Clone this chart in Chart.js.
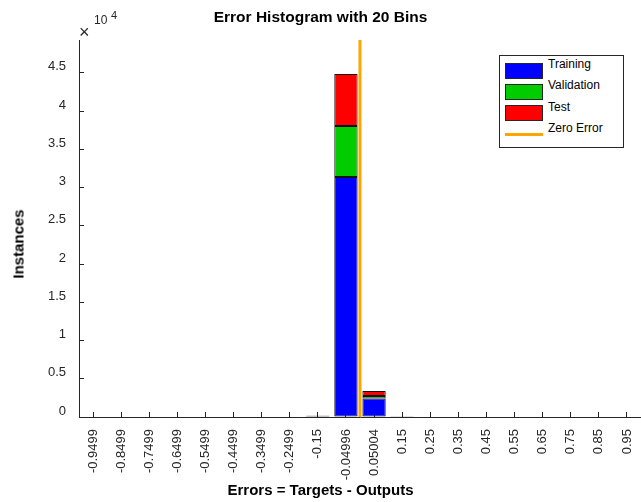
<!DOCTYPE html>
<html lang="en">
<head>
  <meta charset="UTF-8"/>
  <title>Error Histogram with 20 Bins</title>
  <script src="https://cdn.jsdelivr.net/npm/chart.js"></script>
  <style>
    body { margin: 0; background: #fff; font-family: "Liberation Sans", Arial, sans-serif; }
    .wrap { position: relative; width: 641px; height: 502px; }
    canvas { position: absolute; left: 0; top: 0; }
    .exp { position: absolute; color: #262626; line-height: 1; white-space: nowrap; }
    .ylab {
      position: absolute; left: 18px; top: 244px; color: #000;
      font-size: 15px; font-weight: bold; white-space: nowrap;
      transform: translate(-50%, -50%) rotate(-90deg);
    }
    .legend {
      position: absolute; left: 499px; top: 55px; width: 125px; height: 93px;
      border: 1px solid #262626; box-sizing: border-box; background: #fff;
    }
    .legend .sw { position: absolute; left: 5px; width: 38px; height: 16px; border: 1px solid #262626; box-sizing: border-box; }
    .legend .ln { position: absolute; left: 5px; width: 38px; height: 3px; }
    .legend .tx { position: absolute; left: 48px; font-size: 12px; line-height: 14px; color: #000; white-space: nowrap; }
  </style>
</head>
<body>
  <div class="wrap">
    <canvas id="hist" width="641" height="502"></canvas>
    <span class="exp" style="left:79px;top:23px;font-size:18px;font-weight:300;">&times;</span>
    <span class="exp" style="left:94px;top:14px;font-size:12px;">10</span>
    <span class="exp" style="left:111px;top:10px;font-size:11px;">4</span>
    <span class="ylab">Instances</span>
    <div class="legend" id="legend"></div>
  </div>
  <script>
    // bin centres as printed on the x axis
    const binLabels = [
      "-0.9499", "-0.8499", "-0.7499", "-0.6499", "-0.5499",
      "-0.4499", "-0.3499", "-0.2499", "-0.15", "-0.04996",
      "0.05004", "0.15", "0.25", "0.35", "0.45",
      "0.55", "0.65", "0.75", "0.85", "0.95"
    ];
    const training   = [0, 0, 0, 0, 0, 0, 0, 0, 140, 31390, 2420, 100, 0, 0, 0, 0, 0, 0, 0, 0];
    const validation = [0, 0, 0, 0, 0, 0, 0, 0, 30, 6665, 330, 20, 0, 0, 0, 0, 0, 0, 0, 0];
    const test       = [0, 0, 0, 0, 0, 0, 0, 0, 30, 6800, 650, 20, 0, 0, 0, 0, 0, 0, 0, 0];
    const yTicks = [0, 5000, 10000, 15000, 20000, 25000, 30000, 35000, 40000, 45000];
    const yMax = 49300;
    const zeroError = 0;
    const errRange = [-0.9999, 1.0001];

    const AXIS = "#262626";
    const series = [
      { label: "Training", data: training, color: "#0000ff" },
      { label: "Validation", data: validation, color: "#00cc00" },
      { label: "Test", data: test, color: "#ff0000" }
    ];
    const zeroColor = "#ffa500";

    Chart.defaults.font.family = '"Liberation Sans", Arial, sans-serif';
    Chart.defaults.color = AXIS;

    const datasets = series.map(s => ({
      label: s.label,
      data: s.data,
      backgroundColor: s.color,
      borderColor: "#111",
      borderWidth: 1,
      borderSkipped: false,
      grouped: false,
      barPercentage: 0.83,
      categoryPercentage: 1
    }));
    datasets.push({
      type: "line",
      label: "Zero Error",
      xAxisID: "xz",
      data: [0, yMax].map(y => ({ x: zeroError, y })),
      borderColor: zeroColor,
      borderWidth: 3,
      pointRadius: 0
    });

    new Chart(document.getElementById("hist"), {
      type: "bar",
      data: { labels: binLabels, datasets },
      options: {
        responsive: false,
        animation: false,
        layout: { padding: 0 },
        plugins: {
          legend: { display: false },
          tooltip: { enabled: false },
          title: {
            display: true,
            text: "Error Histogram with 20 Bins",
            color: "#000",
            font: { size: 15.5, weight: "bold" },
            padding: { top: 8, bottom: 13.4 }
          },
          subtitle: {
            display: true,
            position: "bottom",
            text: "Errors = Targets - Outputs",
            color: "#000",
            font: { size: 15, weight: "bold" },
            padding: { top: 0, bottom: 2 }
          }
        },
        scales: {
          x: {
            type: "category",
            stacked: true,
            offset: true,
            grid: { drawOnChartArea: false, offset: false, tickLength: -5, color: AXIS },
            border: { display: true, color: AXIS, width: 1 },
            ticks: {
              autoSkip: false, minRotation: 90, maxRotation: 90,
              padding: 17, color: AXIS, font: { size: 13 }
            },
            afterFit: s => { s.height = 65; s.paddingLeft = 0; s.paddingRight = 0; }
          },
          xz: { type: "linear", display: false, min: errRange[0], max: errRange[1] },
          y: {
            stacked: true,
            min: 0,
            max: yMax,
            grid: { drawOnChartArea: false, tickLength: -5, color: AXIS },
            border: { display: true, color: AXIS, width: 1 },
            afterBuildTicks: s => { s.ticks = yTicks.map(v => ({ value: v })); },
            ticks: {
              padding: 18, labelOffset: -6, color: AXIS, font: { size: 13 },
              callback: v => String(v / 10000)
            },
            afterFit: s => { s.width = 79; }
          }
        }
      }
    });

    // legend box, MATLAB style, inside the axes
    const leg = document.getElementById("legend");
    series.forEach((s, i) => {
      leg.insertAdjacentHTML("beforeend",
        `<div class="sw" style="top:${7 + i * 21}px;background:${s.color}"></div>` +
        `<div class="tx" style="top:${1 + Math.round(i * 21.3)}px">${s.label}</div>`);
    });
    leg.insertAdjacentHTML("beforeend",
      `<div class="ln" style="top:77px;background:${zeroColor}"></div>` +
      `<div class="tx" style="top:65px">Zero Error</div>`);
  </script>
</body>
</html>
